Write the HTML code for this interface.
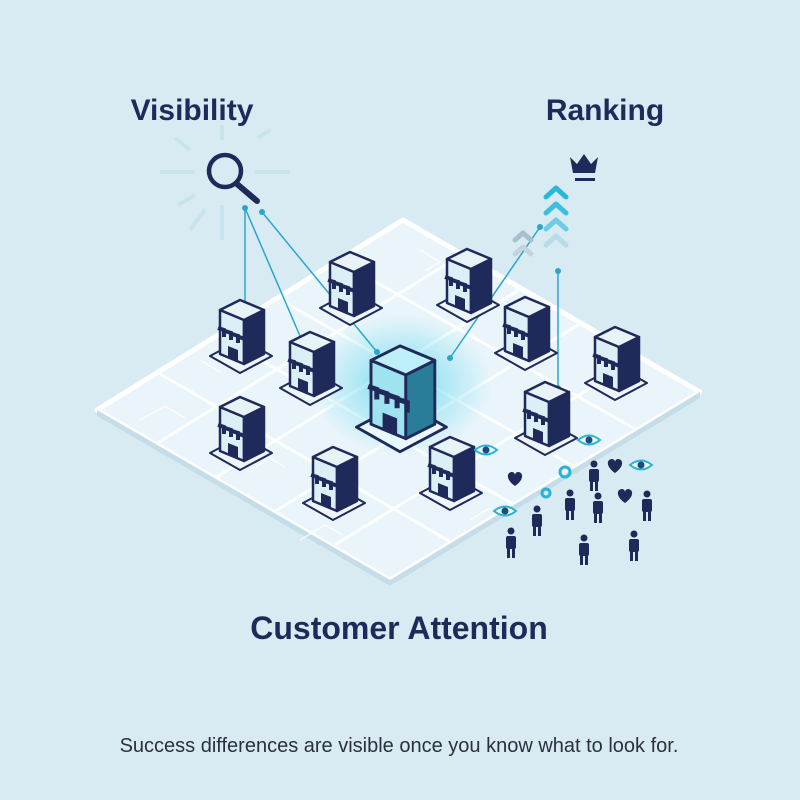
<!DOCTYPE html>
<html><head><meta charset="utf-8"><style>
html,body{margin:0;padding:0;background:#d8ebf3;}
svg{display:block}
</style></head><body>
<svg width="800" height="800" viewBox="0 0 800 800" xmlns="http://www.w3.org/2000/svg">
<defs>
<radialGradient id="glow" cx="50%" cy="50%" r="50%">
<stop offset="0" stop-color="#5fd6ee" stop-opacity="0.8"/>
<stop offset="1" stop-color="#5fd6ee" stop-opacity="0"/>
</radialGradient>
<g id="b">
<polygon points="-30,-2 2,-19 32,-2 0,15" fill="#eef6fa" stroke="#1f2a5a" stroke-width="2" stroke-linejoin="round"/>
<polygon points="-20,-48 4,-38 4,6 -20,-4" fill="#dceef6" stroke="#1f2a5a" stroke-width="2.5" stroke-linejoin="round"/>
<polygon points="4,-38 24,-48 24,-4 4,6" fill="#1f2a5a" stroke="#1f2a5a" stroke-width="2.5" stroke-linejoin="round"/>
<polygon points="-20,-48 0,-58 24,-48 4,-38" fill="#e8f3f8" stroke="#1f2a5a" stroke-width="2.5" stroke-linejoin="round"/>
<path d="M-22,-30 l6,2 v7 M-15,-27 l6,2 v7 M-8,-24 l6,2 v7 M-1,-21 l6,2 v7" stroke="#1f2a5a" stroke-width="4" fill="none"/>
<polygon points="-12,-12 -2,-8 -2,4 -12,0" fill="#1f2a5a"/>
</g>
<g id="bc">
<polygon points="-30,-2 2,-19 32,-2 0,15" fill="#e8f8fc" stroke="#1f2a5a" stroke-width="2" stroke-linejoin="round"/>
<polygon points="-20,-48 4,-38 4,6 -20,-4" fill="#9fe2f0" stroke="#1f2a5a" stroke-width="2" stroke-linejoin="round"/>
<polygon points="4,-38 24,-48 24,-4 4,6" fill="#2a7d98" stroke="#1f2a5a" stroke-width="2" stroke-linejoin="round"/>
<polygon points="-20,-48 0,-58 24,-48 4,-38" fill="#bdf0f8" stroke="#1f2a5a" stroke-width="2" stroke-linejoin="round"/>
<path d="M-22,-30 l6,2 v7 M-15,-27 l6,2 v7 M-8,-24 l6,2 v7 M-1,-21 l6,2 v7" stroke="#1f2a5a" stroke-width="3.5" fill="none"/>
<polygon points="-12,-12 -2,-8 -2,4 -12,0" fill="#1f2a5a"/>
</g>
<g id="p" fill="#1f2a5a"><circle cx="0" cy="-24" r="3.5"/><rect x="-5" y="-19" width="10" height="13" rx="2"/><rect x="-4" y="-7" width="3" height="10"/><rect x="1" y="-7" width="3" height="10"/></g>
<g id="eye"><path d="M-11,0 Q0,-9 11,0 Q0,9 -11,0Z" fill="#eaf7fb" stroke="#2bb3d4" stroke-width="2"/><circle r="3.5" fill="#1f4a7a"/></g>
<path id="heart" d="M0,6 C-10,-1 -8,-8 -3,-8 C-1,-8 0,-6 0,-5 C0,-6 1,-8 3,-8 C8,-8 10,-1 0,6Z" fill="#1f2a5a"/>
</defs>

<polygon points="403,220 700,392 390,580 97,410" fill="#e9f5fa" stroke="#ffffff" stroke-width="5" stroke-linejoin="round"/>
<polygon points="97,410 390,580 390,586 97,416" fill="#c4dde8"/>
<polygon points="390,580 700,392 700,398 390,586" fill="#c4dde8"/>
<g stroke="#ffffff" stroke-width="3" fill="none" opacity="0.95">
<line x1="160" y1="374" x2="451" y2="542"/><line x1="222" y1="338" x2="513" y2="504"/><line x1="284" y1="302" x2="575" y2="467"/><line x1="346" y1="265" x2="637" y2="430"/>
<line x1="156" y1="444" x2="463" y2="254"/><line x1="215" y1="478" x2="522" y2="288"/><line x1="274" y1="512" x2="581" y2="323"/><line x1="333" y1="546" x2="641" y2="357"/>
</g>
<g stroke="#ffffff" stroke-width="1.5" fill="none" opacity="0.8">
<path d="M140,420 l25,-14 l20,12 M250,470 l20,-12 l15,9 M420,250 l20,12 l-15,9 M500,300 l25,15 M560,350 l-20,12 M300,540 l25,-15 l18,10 M470,520 l20,-12 M200,360 l20,12"/>
</g>
<ellipse cx="402" cy="385" rx="90" ry="70" fill="url(#glow)"/>

<g stroke="#2aa6cc" stroke-width="1.5" fill="none">
<line x1="245" y1="208" x2="245" y2="313"/>
<line x1="245" y1="208" x2="303" y2="343"/>
<line x1="262" y1="212" x2="377" y2="352"/>
<line x1="540" y1="227" x2="450" y2="358"/>
<line x1="558" y1="271" x2="558" y2="388"/>
</g>
<g fill="#2aa6cc"><circle cx="245" cy="208" r="3"/><circle cx="262" cy="212" r="3"/><circle cx="245" cy="313" r="3"/><circle cx="303" cy="343" r="3"/><circle cx="377" cy="352" r="3"/><circle cx="540" cy="227" r="3"/><circle cx="450" cy="358" r="3"/><circle cx="558" cy="271" r="3"/><circle cx="558" cy="388" r="3"/></g>

<use href="#b" transform="translate(240,358)"/>
<use href="#b" transform="translate(350,310)"/>
<use href="#b" transform="translate(467,307)"/>
<use href="#b" transform="translate(525,355)"/>
<use href="#b" transform="translate(615,385)"/>
<use href="#b" transform="translate(310,390)"/>
<use href="#b" transform="translate(240,455)"/>
<use href="#b" transform="translate(545,440)"/>
<use href="#b" transform="translate(333,505)"/>
<use href="#b" transform="translate(450,495)"/>
<use href="#bc" transform="translate(400,430) scale(1.45)"/>

<g stroke="#c6e3ec" stroke-width="4" opacity="0.9">
<line x1="160" y1="172" x2="195" y2="172"/><line x1="255" y1="172" x2="290" y2="172"/>
<line x1="222" y1="125" x2="222" y2="140"/><line x1="222" y1="205" x2="222" y2="240"/>
<line x1="175" y1="138" x2="190" y2="150"/><line x1="258" y1="138" x2="270" y2="130"/>
<line x1="178" y1="205" x2="195" y2="195"/><line x1="190" y1="230" x2="205" y2="210"/>
</g>
<circle cx="225" cy="171" r="16" fill="none" stroke="#1f2a5a" stroke-width="4.5"/>
<line x1="237" y1="184" x2="257" y2="201" stroke="#1f2a5a" stroke-width="6" stroke-linecap="round"/>

<path d="M570,157 l7,7 l7,-10 l7,10 l7,-7 l-3,16 h-22z" fill="#1f2a5a"/>
<rect x="575" y="178" width="20" height="3" fill="#1f2a5a"/>
<g fill="none" stroke-width="5" stroke-linecap="round" stroke-linejoin="round">
<path d="M546,197 l10,-9 l10,9" stroke="#29b8d8"/>
<path d="M546,213 l10,-9 l10,9" stroke="#3cc0de"/>
<path d="M546,229 l10,-9 l10,9" stroke="#6ccde4"/>
<path d="M546,245 l10,-9 l10,9" stroke="#b6dde8"/>
<path d="M515,240 l8,-7 l8,7" stroke="#a9c0cc"/>
<path d="M515,254 l8,-7 l8,7" stroke="#c3d4dc"/>
</g>

<use href="#eye" transform="translate(486,450)"/>
<use href="#eye" transform="translate(589,440)"/>
<use href="#eye" transform="translate(641,465)"/>
<use href="#eye" transform="translate(505,511)"/>
<use href="#heart" transform="translate(515,480)"/>
<use href="#heart" transform="translate(615,467)"/>
<use href="#heart" transform="translate(625,497)"/>
<circle cx="565" cy="472" r="5" fill="none" stroke="#2bb3d4" stroke-width="3"/>
<circle cx="546" cy="493" r="4" fill="none" stroke="#2bb3d4" stroke-width="3"/>
<use href="#p" transform="translate(594,488)"/>
<use href="#p" transform="translate(570,517)"/>
<use href="#p" transform="translate(598,520)"/>
<use href="#p" transform="translate(647,518)"/>
<use href="#p" transform="translate(537,533)"/>
<use href="#p" transform="translate(511,555)"/>
<use href="#p" transform="translate(584,562)"/>
<use href="#p" transform="translate(634,558)"/>

<g font-family="Liberation Sans, sans-serif" fill="#1f2a5a" font-weight="bold">
<text x="192" y="120" font-size="30" text-anchor="middle">Visibility</text>
<text x="605" y="120" font-size="30" text-anchor="middle">Ranking</text>
<text x="399" y="639" font-size="32" text-anchor="middle">Customer Attention</text>
</g>
<text x="399" y="752" font-family="Liberation Sans, sans-serif" font-size="20" fill="#2a3040" text-anchor="middle">Success differences are visible once you know what to look for.</text>
</svg>
</body></html>
